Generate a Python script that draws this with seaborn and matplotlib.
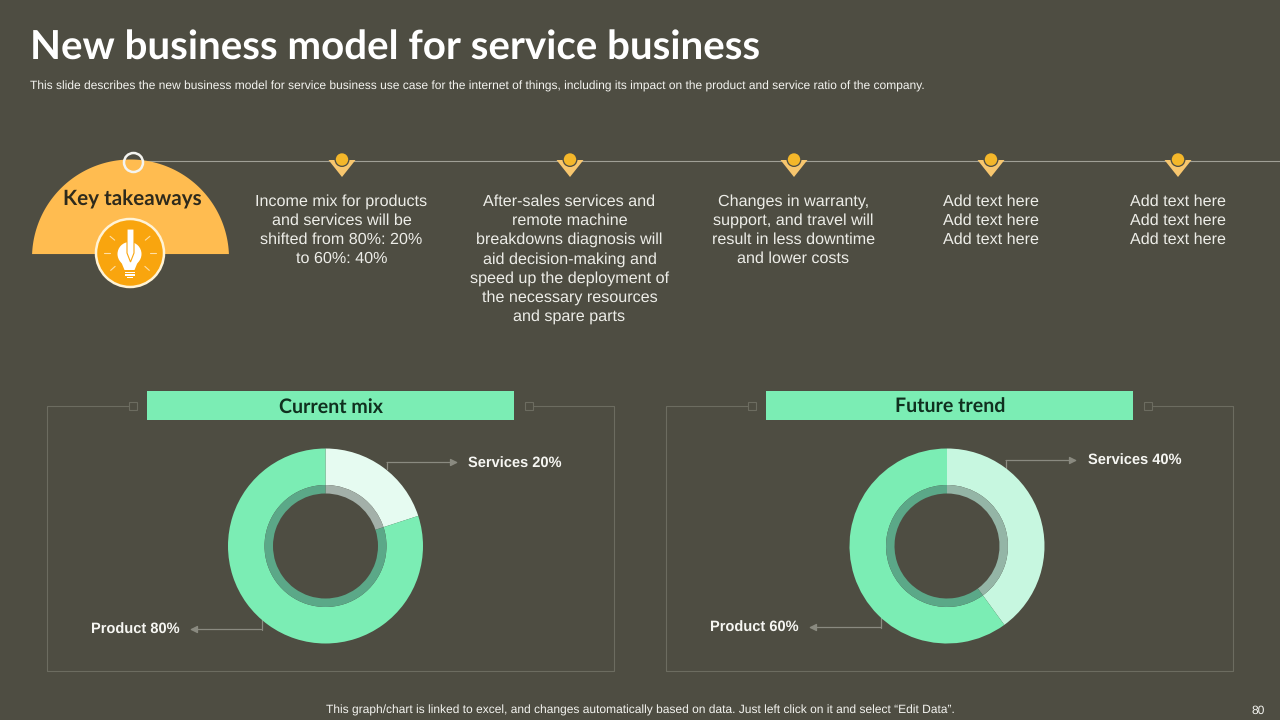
import numpy as np
import seaborn as sns
import matplotlib.pyplot as plt
from matplotlib import patches

# chart values
mix_names = ['Services', 'Product']
current_mix = [20, 80]
future_mix = [40, 60]

title = 'New business model for service business'
subtitle = ('This slide describes the new business model for service business use case for the internet of things, '
            'including its impact on the product and service ratio of the company.')
footer = 'This graph/chart is linked to excel, and changes automatically based on data. Just left click on it and select “Edit Data”.'
page_no = '80'
panel_titles = ['Current mix', 'Future trend']
takeaways = [
    'Income mix for products\nand services will be\nshifted from 80%: 20%\nto 60%: 40%',
    'After-sales services and\nremote machine\nbreakdowns diagnosis will\naid decision-making and\nspeed up the deployment of\nthe necessary resources\nand spare parts',
    'Changes in warranty,\nsupport, and travel will\nresult in less downtime\nand lower costs',
    'Add text here\nAdd text here\nAdd text here',
    'Add text here\nAdd text here\nAdd text here',
]

BG = '#4E4D42'
GREEN = '#7BEDB4'
AMBER = '#FFBC50'
ORANGE = '#F9A50E'
LINE = '#6C6C60'
W, H = 1280, 720

sns.set_theme(style='white', rc={'figure.facecolor': BG, 'savefig.facecolor': BG})
plt.rcParams['font.family'] = ['Liberation Sans', 'DejaVu Sans']
plt.rcParams['text.hinting'] = 'none'

fig = plt.figure(figsize=(12.8, 7.2), dpi=100)

# whole slide axes in pixels, y going down
bg = fig.add_axes([0, 0, 1, 1])
bg.set_xlim(0, W)
bg.set_ylim(H, 0)
bg.axis('off')

bg.text(30.5, 60, title, color='white', fontsize=29, fontweight='bold', family='Lato', va='baseline')
bg.text(30, 86.5, subtitle, color='#F4F4F0', fontsize=8.67, va='center')
bg.text(640, 710.5, footer, color='#F4F4F0', fontsize=8.66, va='center', ha='center')
bg.text(1258, 710.5, page_no, color='#F4F4F0', fontsize=8.66, va='center', ha='center')

# timeline
bg.plot([134, W], [160.5, 160.5], color='#A0A096', lw=0.8, zorder=1)
centers = [342, 570, 794, 991, 1178]
for cx, txt in zip(centers, takeaways):
    bg.add_patch(patches.Polygon([(cx - 13.5, 160), (cx + 13.5, 160), (cx, 177)], color='#F7C66E', zorder=2, lw=0))
    bg.add_patch(patches.Circle((cx, 159.5), 7.5, color=BG, zorder=3, lw=0))
    bg.add_patch(patches.Circle((cx, 159.5), 6.2, color='#F4B72A', zorder=4, lw=0))
    bg.text(cx - 0.5, 194, txt, color='#EDEDE8', fontsize=11.65, ha='center', va='top', linespacing=1.37)

# key takeaways half disc
arc = np.radians(np.linspace(182.3, 357.7, 120))
bg.add_patch(patches.Polygon(np.column_stack([130.5 + 98.5 * np.cos(arc), 258 + 98.5 * np.sin(arc)]),
                             color=AMBER, zorder=2, lw=0))
bg.add_patch(patches.Circle((133.5, 162.5), 9.5, fc='none', ec='#F4F4F0', lw=1.8, zorder=3))
bg.text(132.5, 199.5, 'Key takeaways', color='#2E2A1C', fontsize=14.9, fontweight='bold', family='Lato',
        ha='center', va='center', zorder=3)

# bulb icon
bg.add_patch(patches.Circle((130, 253), 34, fc=ORANGE, ec='#FFF3D6', lw=1.8, zorder=3))
bg.add_patch(patches.Circle((129.5, 254), 12, color='white', zorder=4, lw=0))
bg.add_patch(patches.Polygon([(120, 259), (139, 259), (134.5, 270), (124.5, 270)], color='white', zorder=4, lw=0))
for y0, x0, w0 in [(271.5, 124.5, 10), (274, 124.5, 10), (276.5, 126.5, 6)]:
    bg.add_patch(patches.Rectangle((x0, y0), w0, 1.6, color='white', zorder=4, lw=0))
bg.add_patch(patches.Polygon([(127, 229), (134, 229), (134, 253), (130.5, 262), (127, 253)],
                             fc='white', ec=ORANGE, lw=0.8, zorder=5))
for a in [0, 180, 40, 140, 222, 318]:
    r = np.radians(a)
    bg.plot([130 + 20 * np.cos(r), 130 + 26 * np.cos(r)], [253 - 20 * np.sin(r), 253 - 26 * np.sin(r)],
            color='#FFDFA6', lw=0.8, zorder=4)


def draw_panel(left, bar_left, title_txt):
    right = left + 567
    sq_l, sq_r = bar_left - 14, bar_left + 382
    bg.plot([sq_l - 4, left, left, right, right, sq_r + 4], [406, 406, 671, 671, 406, 406], color=LINE, lw=0.8)
    for sq in (sq_l, sq_r):
        bg.add_patch(patches.Rectangle((sq - 4, 402), 8, 8, fc='none', ec=LINE, lw=0.8))
    bg.add_patch(patches.Rectangle((bar_left, 391), 367, 29, color=GREEN, lw=0))
    bg.text(bar_left + 184, 412.5, title_txt, color='#10301F', fontsize=14.1, fontweight='bold', family='Lato',
            ha='center', va='baseline')


def draw_donut(cx, cy, values, light, ring_light):
    r = 97.5
    ax = fig.add_axes([(cx - r) / W, 1 - (cy + r) / H, 2 * r / W, 2 * r / H])
    ax.pie(values, colors=sns.color_palette([light, GREEN]), radius=1, startangle=90, counterclock=False,
           wedgeprops={'width': 1 - 61 / r, 'linewidth': 0})
    ax.pie(values, colors=sns.color_palette([ring_light, '#5BA888']), radius=61 / r, startangle=90,
           counterclock=False, wedgeprops={'width': 8.5 / r, 'linewidth': 0})
    ax.set_xlim(-1, 1)
    ax.set_ylim(-1, 1)
    ax.patch.set_alpha(0)


def leader(points, label, text_x, text_y):
    xs, ys = zip(*points)
    bg.plot(xs[:-1], ys[:-1], color='#8A8A80', lw=0.9)
    bg.annotate('', xy=points[-1], xytext=points[-2],
                arrowprops=dict(arrowstyle='-|>', color='#8A8A80', lw=0.9, mutation_scale=11, shrinkA=0, shrinkB=0))
    bg.text(text_x, text_y, label, color='#F6F6F2', fontsize=10.5, fontweight='bold', va='center')


draw_panel(47, 147, panel_titles[0])
draw_panel(666, 766, panel_titles[1])

draw_donut(325.5, 546, current_mix, '#E6FBF1', '#A3B0A9')
draw_donut(947, 546, future_mix, '#C7F7E0', '#94B5A6')

leader([(387, 469), (387, 462.5), (458, 462.5)], f'{mix_names[0]} {current_mix[0]}%', 468, 464)
leader([(261.5, 619), (261.5, 629.5), (190, 629.5)], f'{mix_names[1]} {current_mix[1]}%', 91, 630)
leader([(1006, 468), (1006, 460.5), (1077, 460.5)], f'{mix_names[0]} {future_mix[0]}%', 1088, 461)
leader([(881, 618), (881, 627.5), (809, 627.5)], f'{mix_names[1]} {future_mix[1]}%', 710, 628)

fig.savefig('out.png', dpi=100)
